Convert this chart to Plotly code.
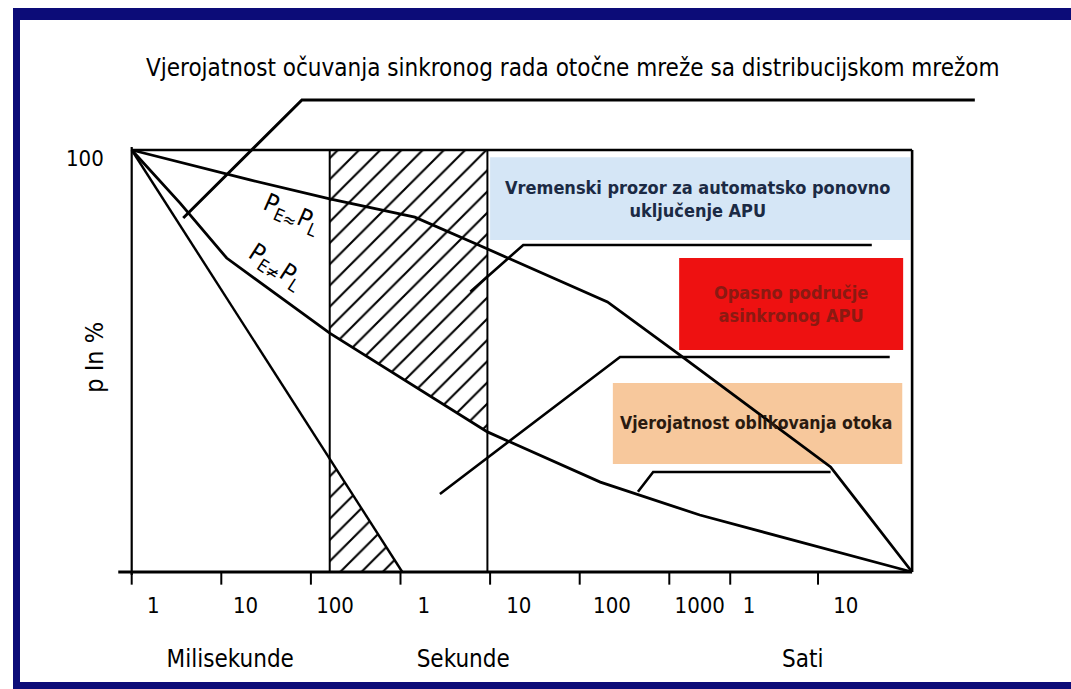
import numpy as np
import plotly.graph_objects as go

# ---------------- data (x: decade position on log-time axis, y: p in %) ----------------
tick_pos = [0, 1, 2, 3, 4, 5, 6, 6.68, 7.66]
tick_labels = ["1", "10", "100", "1", "10", "100", "1000", "1", "10"]
tick_label_pos = [0.24, 1.27, 2.27, 3.26, 4.32, 5.36, 6.34, 6.89, 7.97]
unit_labels = ["Milisekunde", "Sekunde", "Sati"]
unit_label_pos = [1.10, 3.70, 7.49]
x_end = 8.71

# P_E ≈ P_L
equal_x = [0, 1.32, 2.21, 3.16, 3.89, 5.31, 6.12, 7.80, 8.71]
equal_y = [100, 92.9, 88.4, 84.1, 77.3, 64.0, 51.4, 24.9, 0]
# P_E ≠ P_L
unequal_x = [0, 0.54, 1.06, 2.21, 3.97, 5.23, 6.34, 7.46, 8.71]
unequal_y = [100, 87.4, 74.4, 56.6, 33.2, 21.3, 13.5, 7.1, 0]
# steep line
steep_x = [0, 3.02]
steep_y = [100, 0]
# APU time window (hatched)
window_x = [2.21, 3.97]

# leader lines of the callouts
title_leader_x = [0.575, 1.90, 9.41]
title_leader_y = [83.9, 111.85, 111.85]
blue_leader_x = [3.78, 4.37, 8.26]
blue_leader_y = [66.4, 77.5, 77.5]
red_leader_x = [3.44, 5.45, 8.46]
red_leader_y = [18.5, 50.95, 50.95]
orange_leader_x = [5.65, 5.82, 7.80]
orange_leader_y = [19.0, 23.7, 23.7]

# callout boxes: (x0, x1, y0, y1)
blue_box = (4.00, 8.69, 78.7, 98.3)
red_box = (6.11, 8.61, 52.6, 74.4)
orange_box = (5.37, 8.60, 25.6, 44.8)

title = "Vjerojatnost očuvanja sinkronog rada otočne mreže sa distribucijskom mrežom"
blue_text = "Vremenski prozor za automatsko ponovno<br>uključenje APU"
red_text = "Opasno područje<br>asinkronog APU"
orange_text = "Vjerojatnost oblikovanja otoka"

# ---------------- figure ----------------
FONT = "DejaVu Sans Condensed, Liberation Sans Narrow, Arial Narrow, sans-serif"
W, H = 1071, 689
fig = go.Figure()

def line(x, y, w=2.6, color="black"):
    fig.add_trace(go.Scatter(x=x, y=y, mode="lines", line=dict(color=color, width=w),
                             hoverinfo="skip", showlegend=False))

# boxes behind everything
for (x0, x1, y0, y1), col in [(blue_box, "#d5e6f6"), (red_box, "#ee1111"), (orange_box, "#f7c89c")]:
    fig.add_shape(type="rect", x0=x0, x1=x1, y0=y0, y1=y1, fillcolor=col,
                  line=dict(width=0), layer="below")

# hatching
w0, w1 = window_x
hx = [w0, w1, w1, w0, w0]
hy = [100, 100, float(np.interp(w1, unequal_x, unequal_y)), float(np.interp(w0, unequal_x, unequal_y)), 100]
s0 = float(np.interp(w0, steep_x, steep_y))
tx = [w0, w0, steep_x[-1], w0]
ty = [s0, 0, 0, s0]
for px, py in [(hx, hy), (tx, ty)]:
    fig.add_trace(go.Scatter(x=px, y=py, mode="lines", fill="toself",
                             fillcolor="rgba(0,0,0,0)", line=dict(width=0),
                             fillpattern=dict(shape="/", size=15, solidity=0.14,
                                              fgcolor="black", fgopacity=1,
                                              bgcolor="rgba(0,0,0,0)"),
                             hoverinfo="skip", showlegend=False))

# frame of diagram
line([0, x_end], [100, 100], 2.6)
line([x_end, x_end], [0, 100], 2.6)
line([0, 0], [-0.7, 100.7], 2.2)
line([-0.15, x_end], [0, 0], 2.8)
line([w0, w0], [0, 100], 2.0)
line([w1, w1], [0, 100], 2.0)

# ticks
tkx, tky = [], []
for t in tick_pos:
    tkx += [t, t, None]
    tky += [0, -3.0, None]
line(tkx, tky, 2.0)

# curves
line(equal_x, equal_y, 2.8)
line(unequal_x, unequal_y, 2.8)
line(steep_x, steep_y, 2.4)

# leaders
line(title_leader_x, title_leader_y, 3.0)
line(blue_leader_x, blue_leader_y, 2.6)
line(red_leader_x, red_leader_y, 2.6)
line(orange_leader_x, orange_leader_y, 2.6)

# tick labels
fig.add_trace(go.Scatter(x=tick_label_pos, y=[-8.3] * len(tick_labels), mode="text",
                         text=tick_labels, textfont=dict(family=FONT, size=22, color="black"),
                         hoverinfo="skip", showlegend=False, cliponaxis=False))
fig.add_trace(go.Scatter(x=unit_label_pos, y=[-21.2] * 3, mode="text",
                         text=unit_labels, textfont=dict(family=FONT, size=24, color="black"),
                         hoverinfo="skip", showlegend=False, cliponaxis=False))

def ann(text, x, y, size, color="black", angle=0, xref="x", yref="y", **kw):
    fig.add_annotation(text=text, x=x, y=y, xref=xref, yref=yref, showarrow=False,
                       font=dict(family=FONT, size=size, color=color), textangle=angle, **kw)

ann(title, 0.535, 1 - 52 / H, 24, xref="paper", yref="paper")
ann("100", -0.29, 98.1, 22, xanchor="right")
ann("p In %", -0.41, 51.0, 25, angle=-90)
ann("P<sub>E≈</sub>P<sub>L</sub>", 1.78, 84.8, 25, angle=24)
ann("P<sub>E≠</sub>P<sub>L</sub>", 1.61, 72.3, 25, angle=33)
ann("<b>" + blue_text + "</b>", (blue_box[0] + blue_box[1]) / 2 - 0.03,
    (blue_box[2] + blue_box[3]) / 2, 18, color="#1b2a44")
ann("<b>" + red_text + "</b>", (red_box[0] + red_box[1]) / 2,
    (red_box[2] + red_box[3]) / 2, 18, color="#8a1a12")
ann("<b>" + orange_text + "</b>", (orange_box[0] + orange_box[1]) / 2 - 0.02,
    (orange_box[2] + orange_box[3]) / 2, 17.5, color="#2a1a10")

# navy border (paper coordinates)
NAVY = "#0c0c78"
fig.add_shape(type="rect", xref="paper", yref="paper", x0=13 / W, x1=1.01, y0=1 - 20 / H, y1=1 - 8 / H,
              fillcolor=NAVY, line=dict(width=0))
fig.add_shape(type="rect", xref="paper", yref="paper", x0=13 / W, x1=20 / W, y0=-0.01, y1=1 - 8 / H,
              fillcolor=NAVY, line=dict(width=0))
fig.add_shape(type="rect", xref="paper", yref="paper", x0=13 / W, x1=1.01, y0=-0.01, y1=1 - 682 / H,
              fillcolor=NAVY, line=dict(width=0))

fig.update_layout(
    width=W, height=H, margin=dict(l=0, r=0, t=0, b=0),
    paper_bgcolor="white", plot_bgcolor="white",
    xaxis=dict(range=[-1.4699, 10.4833], visible=False, fixedrange=True),
    yaxis=dict(range=[-27.725, 135.545], visible=False, fixedrange=True),
    showlegend=False,
)
fig.write_html("out.html", config={"displayModeBar": False},
               post_script="document.body.style.margin='0px';document.body.style.overflow='hidden';")
